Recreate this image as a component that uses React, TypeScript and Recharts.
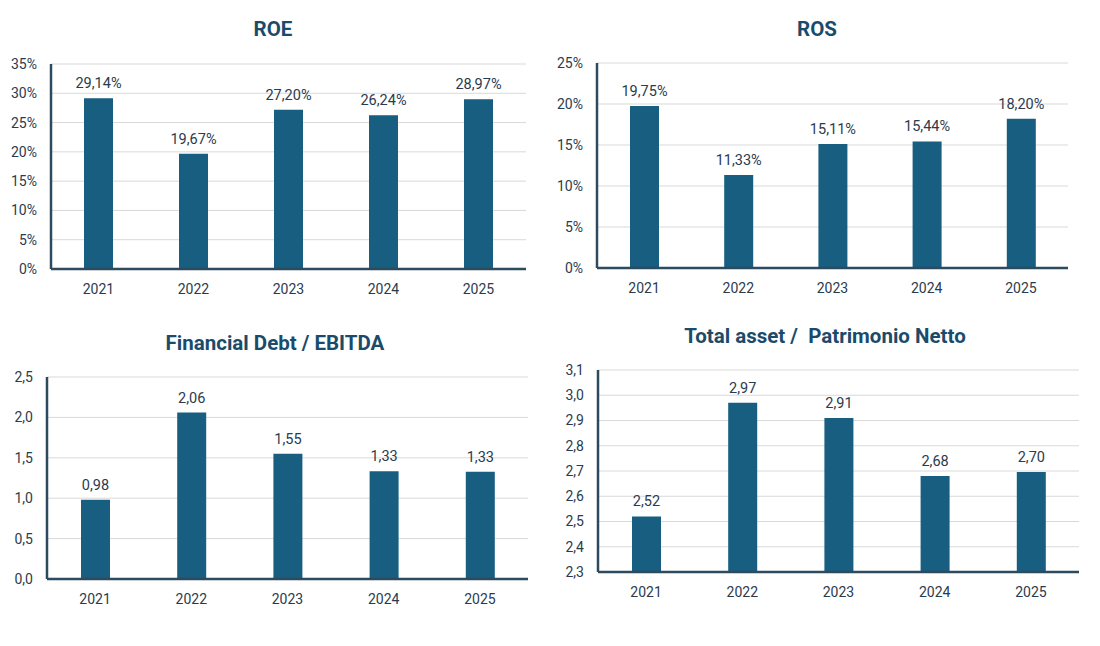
import React from "react";
import { BarChart, Bar, XAxis, YAxis, CartesianGrid, LabelList } from "recharts";

const years = ["2021", "2022", "2023", "2024", "2025"];
const roe = [29.14, 19.67, 27.2, 26.24, 28.97];
const ros = [19.75, 11.33, 15.11, 15.44, 18.2];
const debtEbitda = [0.98, 2.06, 1.55, 1.334, 1.326];
const assetEquity = [2.52, 2.97, 2.91, 2.68, 2.696];

const roeTicks = [0, 5, 10, 15, 20, 25, 30, 35];
const rosTicks = [0, 5, 10, 15, 20, 25];
const debtTicks = [0, 0.5, 1, 1.5, 2, 2.5];
const assetTicks = [2.3, 2.4, 2.5, 2.6, 2.7, 2.8, 2.9, 3.0, 3.1];

const BAR = "#175E80";
const AXIS = "#2D4A5E";
const GRID = "#D9D9D9";
const TEXT = "#2B3B4E";
const TITLE = "#1B4B6B";
const FONT = "Roboto, sans-serif";

const comma = (v: number, d: number) => v.toFixed(d).replace(".", ",");

interface PanelProps {
  title: string;
  values: number[];
  ticks: number[];
  box: { x: number; y: number; w: number; h: number };
  plot: { left: number; right: number; top: number; bottom: number };
  titleX: number;
  titleY: number;
  tickFmt: (v: number) => string;
  labelFmt: (v: number) => string;
}

function Panel({ title, values, ticks, box, plot, titleX, titleY, tickFmt, labelFmt }: PanelProps) {
  const data = years.map((year, i) => ({ year, value: values[i] }));
  const yW = 45;
  const xH = 30;
  const margin = {
    top: plot.top - box.y,
    right: box.x + box.w - plot.right,
    left: plot.left - box.x - yW,
    bottom: box.y + box.h - plot.bottom - xH,
  };
  return (
    <>
      <div
        style={{
          position: "absolute",
          left: titleX - 250,
          width: 500,
          top: titleY - 13,
          textAlign: "center",
          fontFamily: "Roboto, sans-serif",
          fontWeight: 700,
          fontSize: 20.5,
          color: TITLE,
          whiteSpace: "pre",
        }}
      >
        {title}
      </div>
      <div style={{ position: "absolute", left: box.x, top: box.y }}>
        <BarChart width={box.w} height={box.h} data={data} margin={margin}>
          <CartesianGrid vertical={false} stroke={GRID} strokeWidth={1} />
          <XAxis
            dataKey="year"
            height={xH}
            tickLine={false}
            tickSize={0}
            tickMargin={15}
            axisLine={{ stroke: AXIS, strokeWidth: 2.5 }}
            tick={{ fill: TEXT, fontSize: 14, fontFamily: FONT }}
          />
          <YAxis
            width={yW}
            domain={[ticks[0], ticks[ticks.length - 1]]}
            ticks={ticks}
            interval={0}
            allowDataOverflow
            tickLine={false}
            tickSize={0}
            tickMargin={14}
            axisLine={{ stroke: AXIS, strokeWidth: 2.5 }}
            tick={{ fill: TEXT, fontSize: 14, fontFamily: FONT }}
            tickFormatter={(v: number) => tickFmt(v)}
          />
          <Bar dataKey="value" fill={BAR} barSize={29} isAnimationActive={false}>
            <LabelList
              dataKey="value"
              position="top"
              offset={10}
              fill={TEXT}
              fontSize={14.5}
              fontFamily={FONT}
              formatter={(v: unknown) => labelFmt(Number(v))}
            />
          </Bar>
        </BarChart>
      </div>
    </>
  );
}

export default function App() {
  return (
    <div style={{ position: "absolute", left: 0, top: 0, width: 1100, height: 646, background: "#fff" }}>
      <Panel
        title="ROE"
        values={roe}
        ticks={roeTicks}
        box={{ x: 0, y: 0, w: 550, h: 320 }}
        plot={{ left: 51, right: 526, top: 64, bottom: 269 }}
        titleX={273}
        titleY={30}
        tickFmt={(v) => `${v}%`}
        labelFmt={(v) => `${comma(v, 2)}%`}
      />
      <Panel
        title="ROS"
        values={ros}
        ticks={rosTicks}
        box={{ x: 550, y: 0, w: 550, h: 320 }}
        plot={{ left: 597, right: 1068, top: 63, bottom: 268 }}
        titleX={817}
        titleY={30}
        tickFmt={(v) => `${v}%`}
        labelFmt={(v) => `${comma(v, 2)}%`}
      />
      <Panel
        title="Financial Debt / EBITDA"
        values={debtEbitda}
        ticks={debtTicks}
        box={{ x: 0, y: 320, w: 550, h: 326 }}
        plot={{ left: 47, right: 528, top: 377, bottom: 579 }}
        titleX={275}
        titleY={344}
        tickFmt={(v) => comma(v, 1)}
        labelFmt={(v) => comma(v, 2)}
      />
      <Panel
        title="Total asset /  Patrimonio Netto"
        values={assetEquity}
        ticks={assetTicks}
        box={{ x: 550, y: 320, w: 550, h: 326 }}
        plot={{ left: 598, right: 1079, top: 370, bottom: 572 }}
        titleX={825}
        titleY={337}
        tickFmt={(v) => comma(v, 1)}
        labelFmt={(v) => comma(v, 2)}
      />
    </div>
  );
}
